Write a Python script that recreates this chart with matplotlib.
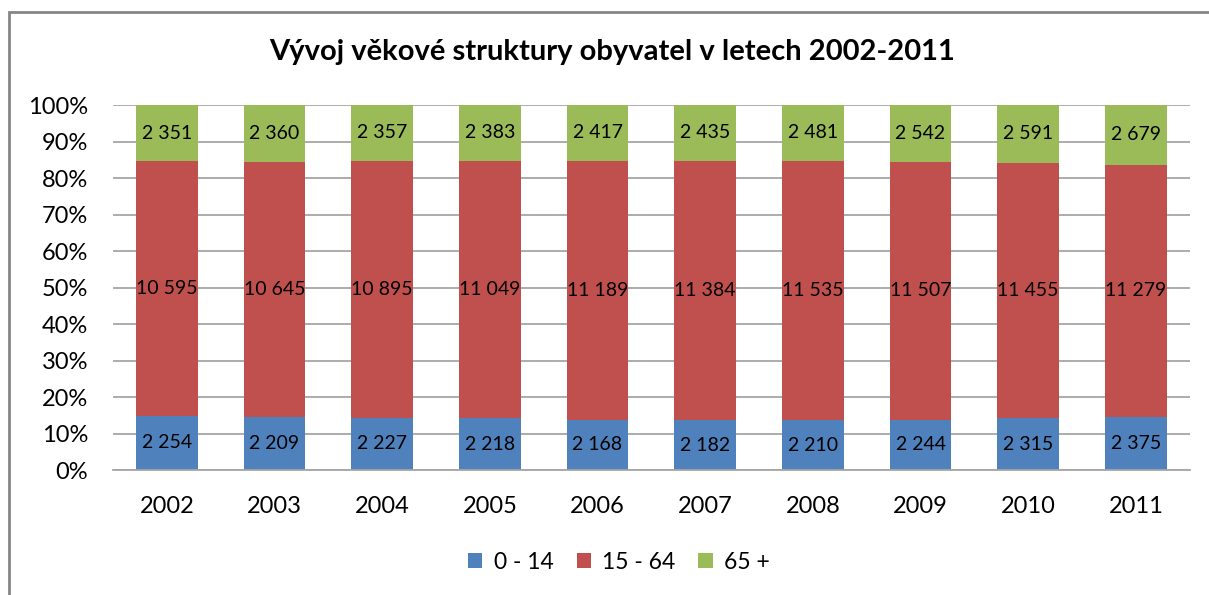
import numpy as np
import matplotlib
matplotlib.use("Agg")
import matplotlib.pyplot as plt
from matplotlib.patches import Rectangle, Patch

# data
years = ["2002", "2003", "2004", "2005", "2006", "2007", "2008", "2009", "2010", "2011"]
age_0_14 = [2254, 2209, 2227, 2218, 2168, 2182, 2210, 2244, 2315, 2375]
age_15_64 = [10595, 10645, 10895, 11049, 11189, 11384, 11535, 11507, 11455, 11279]
age_65 = [2351, 2360, 2357, 2383, 2417, 2435, 2481, 2542, 2591, 2679]
labels = ["0 - 14", "15 - 64", "65 +"]
colors = ["#4F81BD", "#C0504D", "#9BBB59"]

plt.rcParams["font.family"] = ["Lato", "DejaVu Sans"]

def fmt(v):
    # Czech style thousands separator (space)
    return f"{v:,}".replace(",", " ")

series = np.array([age_0_14, age_15_64, age_65], dtype=float)
totals = series.sum(axis=0)
shares = series / totals * 100

fig = plt.figure(figsize=(12.09, 5.95), dpi=100)
ax = fig.add_axes([0.0935, 0.21, 0.8905, 0.6135])

x = np.arange(len(years))
bottom = np.zeros(len(years))
for i in range(3):
    ax.bar(x, shares[i], width=0.575, bottom=bottom, color=colors[i],
           label=labels[i], zorder=2)
    for xi, b, h, v in zip(x, bottom, shares[i], series[i]):
        ax.text(xi, b + h / 2, fmt(int(v)), ha="center", va="center",
                fontsize=14, color="black", zorder=3)
    bottom += shares[i]

ax.set_xlim(-0.5, len(years) - 0.5)
ax.set_ylim(0, 100)
ax.set_yticks(np.arange(0, 101, 10))
ax.set_yticklabels([f"{t}%" for t in range(0, 101, 10)])
ax.set_xticks(x)
ax.set_xticklabels(years)
ax.tick_params(axis="both", length=0, labelsize=17, colors="black")
ax.tick_params(axis="x", pad=19)
ax.tick_params(axis="y", pad=18)
ax.yaxis.grid(True, color="#A6A6A6", linewidth=1.3, zorder=0)
ax.set_axisbelow(True)
for side in ["left", "right", "top"]:
    ax.spines[side].set_visible(False)
ax.spines["bottom"].set_color("#A6A6A6")
ax.spines["bottom"].set_linewidth(1.3)

fig.text(0.506, 0.913, "Vývoj věkové struktury obyvatel v letech 2002-2011",
         ha="center", va="center", fontsize=21, fontweight="bold")

handles = [Patch(facecolor=c, label=l) for c, l in zip(colors, labels)]
fig.legend(handles=handles, loc="center", bbox_to_anchor=(0.512, 0.055), ncol=3,
           frameon=False, fontsize=16.5, handlelength=0.62, handleheight=0.62,
           columnspacing=1.0, handletextpad=0.5)

# outer chart frame (cut off at right and bottom in the reference)
fig.patches.append(Rectangle((9 / 1209, -0.1), 1.2, 1 - 12 / 595 + 0.1,
                             transform=fig.transFigure, fill=False,
                             edgecolor="#868686", linewidth=2))

fig.savefig("out.png", dpi=100)
